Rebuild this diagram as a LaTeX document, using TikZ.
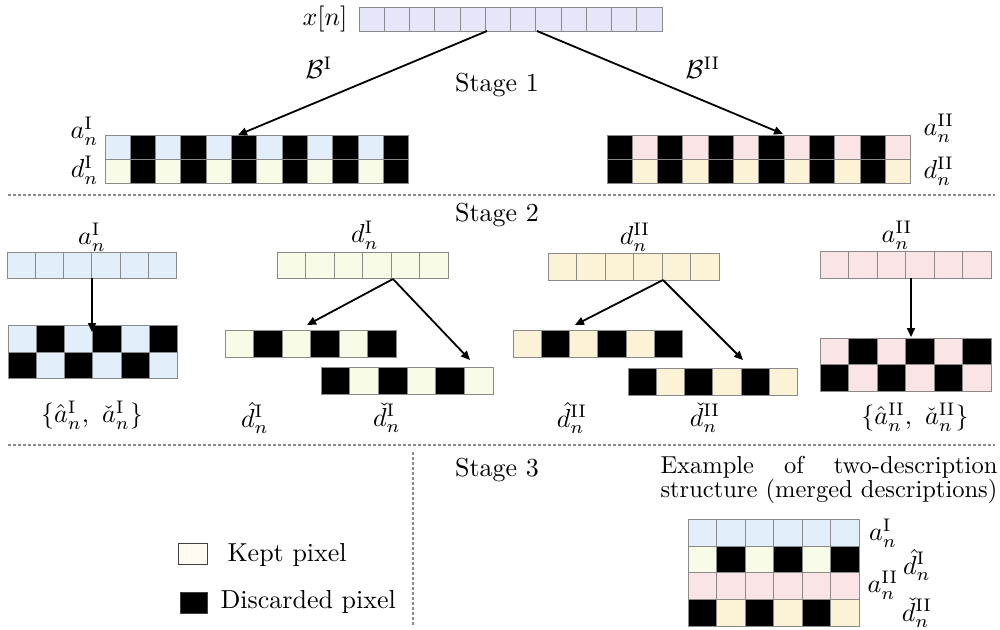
\RequirePackage{fix-cm}
\documentclass[tikz,border=0pt]{standalone}
\usetikzlibrary{arrows.meta}
\definecolor{xc}{HTML}{E6E6FA}
\definecolor{ab}{HTML}{E3EEFB}
\definecolor{dy}{HTML}{F8FCE6}
\definecolor{ap}{HTML}{FBE4E6}
\definecolor{dc}{HTML}{FCF2D6}
\definecolor{kp}{HTML}{FFFAF0}
\definecolor{bd}{HTML}{8A8A8A}
\definecolor{dl}{HTML}{8C8C8C}
\newlength{\exw}
% name, x, y, cell width, cell height, colour list
\newcommand{\pixrow}[6]{%
  \foreach \pcol [count=\pidx from 0] in {#6} {
    \filldraw[fill=\pcol, draw=bd, line width=0.4pt] ({#2+\pidx*#4},#3) rectangle ++(#4,#5);
  }
  \coordinate (#1) at (#2,#3);
}
\tikzset{
  arr/.style={-{Triangle[length=3.6pt,width=3.2pt]}, line width=0.72pt},
  sep/.style={dl, line width=0.52pt, dash pattern=on 1.2pt off 0.8pt},
  lab/.style={inner sep=0pt},
  legbox/.style={draw=black!75, line width=0.35pt, inner sep=0pt}
}
\begin{document}
\begin{tikzpicture}[x=0.4pt,y=-0.4pt,font=\fontsize{10.4}{12.5}\selectfont]
\useasboundingbox (0,0) rectangle (1000,629);
% ---- Stage 1 ----
\pixrow{xrow}{359}{7}{25.25}{24}{xc,xc,xc,xc,xc,xc,xc,xc,xc,xc,xc,xc}
\node[lab] (xl) at (325,19) {$x[n]$};
\pixrow{aIrow}{105}{135}{25.33}{24}{ab,black,ab,black,ab,black,ab,black,ab,black,ab,black}
\pixrow{dIrow}{105}{159}{25.33}{24}{dy,black,dy,black,dy,black,dy,black,dy,black,dy,black}
\pixrow{aIIrow}{607}{135}{25.33}{24}{black,ap,black,ap,black,ap,black,ap,black,ap,black,ap}
\pixrow{dIIrow}{607}{159}{25.33}{24}{black,dc,black,dc,black,dc,black,dc,black,dc,black,dc}
\node[lab, anchor=east] (laI) at (99,131) {$a_n^{\mathrm{I}}$};
\node[lab, anchor=east] (ldI) at (99,170) {$d_n^{\mathrm{I}}$};
\node[lab, anchor=west] (laII) at (923,128) {$a_n^{\mathrm{II}}$};
\node[lab, anchor=west] (ldII) at (923,171) {$d_n^{\mathrm{II}}$};
\coordinate (s1a) at (487,31);
\coordinate (s1b) at (537,31);
\coordinate (t1a) at (238,135);
\coordinate (t1b) at (783,134);
\draw[arr] (s1a) -- (t1a);
\draw[arr] (s1b) -- (t1b);
\node[lab] (BI) at (319,68) {$\mathcal{B}^{\mathrm{I}}$};
\node[lab] (BII) at (703,68) {$\mathcal{B}^{\mathrm{II}}$};
\node[lab] (st1) at (497,85) {Stage 1};
\coordinate (h1l) at (8,195);
\coordinate (h1r) at (995,195);
\draw[sep] (h1l) -- (h1r);
% ---- Stage 2 ----
\node[lab] (st2) at (497,215) {Stage 2};
% a^I
\node[lab] (l2aI) at (92,237) {$a_n^{\mathrm{I}}$};
\pixrow{r2aI}{7}{252}{28.33}{26}{ab,ab,ab,ab,ab,ab}
\pixrow{c2aIt}{8}{325}{28.33}{27}{ab,black,ab,black,ab,black}
\pixrow{c2aIb}{8}{352}{28.33}{26}{black,ab,black,ab,black,ab}
\coordinate (s2a) at (92,278);
\coordinate (t2a) at (92,332);
\draw[arr] (s2a) -- (t2a);
\node[lab] (l2aIs) at (92,415) {$\{\hat{a}_n^{\mathrm{I}},\ \check{a}_n^{\mathrm{I}}\}$};
% d^I
\node[lab] (l2dI) at (365,235) {$d_n^{\mathrm{I}}$};
\pixrow{r2dI}{277}{252}{28.5}{26}{dy,dy,dy,dy,dy,dy}
\pixrow{r2dIh}{225}{330}{28.5}{27}{dy,black,dy,black,dy,black}
\pixrow{r2dIc}{321}{367}{28.67}{27}{black,dy,black,dy,black,dy}
\coordinate (s2d) at (393,279);
\coordinate (t2dh) at (307,325);
\coordinate (t2dc) at (470,360);
\draw[arr] (s2d) -- (t2dh);
\draw[arr] (s2d) -- (t2dc);
\node[lab] (l2dIh) at (255,418) {$\hat{d}_n^{\mathrm{I}}$};
\node[lab] (l2dIc) at (387,418) {$\check{d}_n^{\mathrm{I}}$};
% d^II
\node[lab] (l2dII) at (635,237) {$d_n^{\mathrm{II}}$};
\pixrow{r2dII}{548}{253}{28.5}{27}{dc,dc,dc,dc,dc,dc}
\pixrow{r2dIIh}{513}{330}{28.33}{27}{dc,black,dc,black,dc,black}
\pixrow{r2dIIc}{628}{368}{28.33}{27}{black,dc,black,dc,black,dc}
\coordinate (s2e) at (663,280);
\coordinate (t2eh) at (575,325);
\coordinate (t2ec) at (743,360);
\draw[arr] (s2e) -- (t2eh);
\draw[arr] (s2e) -- (t2ec);
\node[lab] (l2dIIh) at (572,418) {$\hat{d}_n^{\mathrm{II}}$};
\node[lab] (l2dIIc) at (705,418) {$\check{d}_n^{\mathrm{II}}$};
% a^II
\node[lab] (l2aII) at (897,235) {$a_n^{\mathrm{II}}$};
\pixrow{r2aII}{820}{251}{28.5}{27}{ap,ap,ap,ap,ap,ap}
\pixrow{c2aIIt}{820}{338}{28.5}{26}{ap,black,ap,black,ap,black}
\pixrow{c2aIIb}{820}{364}{28.5}{27}{black,ap,black,ap,black,ap}
\coordinate (s2f) at (911,278);
\coordinate (t2f) at (911,337);
\draw[arr] (s2f) -- (t2f);
\node[lab] (l2aIIs) at (915,417) {$\{\hat{a}_n^{\mathrm{II}},\ \check{a}_n^{\mathrm{II}}\}$};
\coordinate (h2l) at (8,445);
\coordinate (h2r) at (995,445);
\draw[sep] (h2l) -- (h2r);
% ---- Stage 3 ----
\node[lab] (st3) at (497,470) {Stage 3};
\coordinate (v1) at (413,452);
\coordinate (v2) at (413,627);
\draw[sep] (v1) -- (v2);
\node[lab, anchor=north west, align=left, font=\fontsize{9.8}{9.4}\selectfont] (ex) at (660,456)
  {\settowidth{\exw}{structure (merged descriptions)}\makebox[\exw][s]{Example of two-description}\\structure (merged descriptions)};
\pixrow{m1}{688}{519}{28.5}{27}{ab,ab,ab,ab,ab,ab}
\pixrow{m2}{688}{546}{28.5}{26}{dy,black,dy,black,dy,black}
\pixrow{m3}{688}{572}{28.5}{27}{ap,ap,ap,ap,ap,ap}
\pixrow{m4}{688}{599}{28.5}{27}{black,dc,black,dc,black,dc}
\node[lab] (m1l) at (883,533) {$a_n^{\mathrm{I}}$};
\node[lab] (m2l) at (917,565) {$\hat{d}_n^{\mathrm{I}}$};
\node[lab] (m3l) at (883,585) {$a_n^{\mathrm{II}}$};
\node[lab] (m4l) at (917,613) {$\check{d}_n^{\mathrm{II}}$};
% legend
\node[legbox, fill=kp, minimum width=11.6pt, minimum height=8.4pt] (kb) at (192.5,554) {};
\node[legbox, fill=black, minimum width=10.8pt, minimum height=8.4pt] (db) at (193.5,602.5) {};
\node[lab, anchor=west] (kt) at (227,555) {Kept pixel};
\node[lab, anchor=west] (dt) at (220,602) {Discarded pixel};
\end{tikzpicture}
\end{document}
